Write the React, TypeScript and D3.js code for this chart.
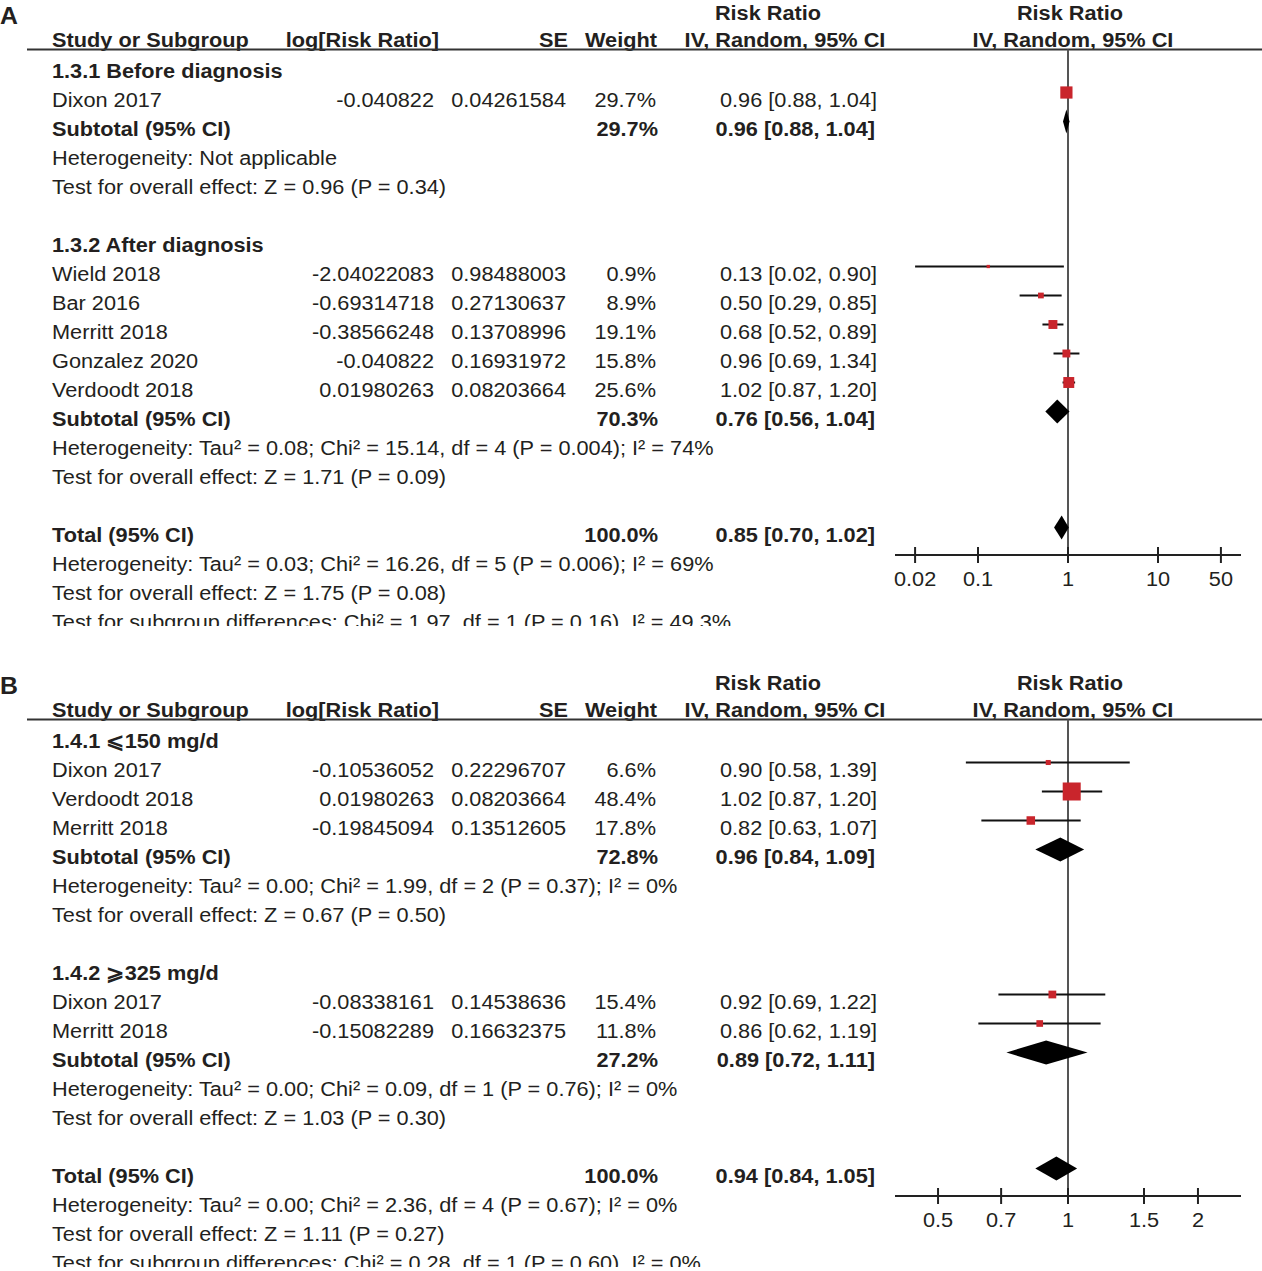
import React from 'react';
import * as d3 from 'd3';

interface Study {
  name: string;
  logRR: string;
  se: string;
  weight: number;
  rr: number;
  lo: number;
  hi: number;
}

interface Pooled {
  weight: number;
  rr: number;
  lo: number;
  hi: number;
}

interface Group {
  title: string;
  studies: Study[];
  subtotal: Pooled;
  het: string;
  effect: string;
}

// ---- Panel A data ----
const groupA1Studies: Study[] = [
  { name: 'Dixon 2017', logRR: '-0.040822', se: '0.04261584', weight: 29.7, rr: 0.96, lo: 0.88, hi: 1.04 },
];
const groupA2Studies: Study[] = [
  { name: 'Wield 2018', logRR: '-2.04022083', se: '0.98488003', weight: 0.9, rr: 0.13, lo: 0.02, hi: 0.9 },
  { name: 'Bar 2016', logRR: '-0.69314718', se: '0.27130637', weight: 8.9, rr: 0.5, lo: 0.29, hi: 0.85 },
  { name: 'Merritt 2018', logRR: '-0.38566248', se: '0.13708996', weight: 19.1, rr: 0.68, lo: 0.52, hi: 0.89 },
  { name: 'Gonzalez 2020', logRR: '-0.040822', se: '0.16931972', weight: 15.8, rr: 0.96, lo: 0.69, hi: 1.34 },
  { name: 'Verdoodt 2018', logRR: '0.01980263', se: '0.08203664', weight: 25.6, rr: 1.02, lo: 0.87, hi: 1.2 },
];
const subtotalsA: Pooled[] = [
  { weight: 29.7, rr: 0.96, lo: 0.88, hi: 1.04 },
  { weight: 70.3, rr: 0.76, lo: 0.56, hi: 1.04 },
];
const totalA: Pooled = { weight: 100, rr: 0.85, lo: 0.7, hi: 1.02 };
const notesA = [
  'Heterogeneity: Not applicable',
  'Test for overall effect: Z = 0.96 (P = 0.34)',
  'Heterogeneity: Tau² = 0.08; Chi² = 15.14, df = 4 (P = 0.004); I² = 74%',
  'Test for overall effect: Z = 1.71 (P = 0.09)',
  'Heterogeneity: Tau² = 0.03; Chi² = 16.26, df = 5 (P = 0.006); I² = 69%',
  'Test for overall effect: Z = 1.75 (P = 0.08)',
  'Test for subgroup differences: Chi² = 1.97, df = 1 (P = 0.16), I² = 49.3%',
];
const ticksA = [0.02, 0.1, 1, 10, 50];

// ---- Panel B data ----
const groupB1Studies: Study[] = [
  { name: 'Dixon 2017', logRR: '-0.10536052', se: '0.22296707', weight: 6.6, rr: 0.9, lo: 0.58, hi: 1.39 },
  { name: 'Verdoodt 2018', logRR: '0.01980263', se: '0.08203664', weight: 48.4, rr: 1.02, lo: 0.87, hi: 1.2 },
  { name: 'Merritt 2018', logRR: '-0.19845094', se: '0.13512605', weight: 17.8, rr: 0.82, lo: 0.63, hi: 1.07 },
];
const groupB2Studies: Study[] = [
  { name: 'Dixon 2017', logRR: '-0.08338161', se: '0.14538636', weight: 15.4, rr: 0.92, lo: 0.69, hi: 1.22 },
  { name: 'Merritt 2018', logRR: '-0.15082289', se: '0.16632375', weight: 11.8, rr: 0.86, lo: 0.62, hi: 1.19 },
];
const subtotalsB: Pooled[] = [
  { weight: 72.8, rr: 0.96, lo: 0.84, hi: 1.09 },
  { weight: 27.2, rr: 0.89, lo: 0.72, hi: 1.11 },
];
const totalB: Pooled = { weight: 100, rr: 0.94, lo: 0.84, hi: 1.05 };
const notesB = [
  'Heterogeneity: Tau² = 0.00; Chi² = 1.99, df = 2 (P = 0.37); I² = 0%',
  'Test for overall effect: Z = 0.67 (P = 0.50)',
  'Heterogeneity: Tau² = 0.00; Chi² = 0.09, df = 1 (P = 0.76); I² = 0%',
  'Test for overall effect: Z = 1.03 (P = 0.30)',
  'Heterogeneity: Tau² = 0.00; Chi² = 2.36, df = 4 (P = 0.67); I² = 0%',
  'Test for overall effect: Z = 1.11 (P = 0.27)',
  'Test for subgroup differences: Chi² = 0.28, df = 1 (P = 0.60), I² = 0%',
];
const ticksB = [0.5, 0.7, 1, 1.5, 2];

const FONT = '"Liberation Sans", Arial, Helvetica, sans-serif';
const TEXT = '#231f20';
const RED = '#c9252c';
const W = 1262;
const H = 1271;
const STRETCH = 1.035; // the source font runs a little wider than Liberation Sans

const fmtCI = (p: Pooled | Study) => `${p.rr.toFixed(2)} [${p.lo.toFixed(2)}, ${p.hi.toFixed(2)}]`;
const fmtW = (w: number) => `${w.toFixed(1)}%`;

// square side grows with weight
const boxSize = d3.scaleLinear().domain([0, 100]).range([3, 34]);

type Row =
  | { kind: 'group'; text: string }
  | { kind: 'study'; study: Study }
  | { kind: 'subtotal'; pooled: Pooled; label: string }
  | { kind: 'note'; text: string }
  | { kind: 'blank' };

function buildRows(groups: Group[], total: Pooled, totalNotes: string[]): Row[] {
  const rows: Row[] = [];
  groups.forEach(g => {
    rows.push({ kind: 'group', text: g.title });
    g.studies.forEach(s => rows.push({ kind: 'study', study: s }));
    rows.push({ kind: 'subtotal', pooled: g.subtotal, label: 'Subtotal (95% CI)' });
    rows.push({ kind: 'note', text: g.het });
    rows.push({ kind: 'note', text: g.effect });
    rows.push({ kind: 'blank' });
  });
  rows.push({ kind: 'subtotal', pooled: total, label: 'Total (95% CI)' });
  totalNotes.forEach(t => rows.push({ kind: 'note', text: t }));
  return rows;
}

const txt = (
  x: number,
  y: number,
  content: string,
  opts: { bold?: boolean; anchor?: string; size?: number } = {}
) => (
  <text
    transform={`translate(${x},${y}) scale(${STRETCH},1)`}
    fontFamily={FONT}
    fontSize={opts.size ?? 21}
    fill={TEXT}
    fontWeight={opts.bold ? 'bold' : 'normal'}
    textAnchor={opts.anchor ?? 'start'}
  >
    {content}
  </text>
);

interface PanelProps {
  label: string;
  top: number;
  clipBottom: number;
  rows: Row[];
  ticks: number[];
  half: number; // symmetric log extent of the axis
  id: string;
}

const Panel: React.FC<PanelProps> = ({ label, top, clipBottom, rows, ticks, half, id }) => {
  const x = d3.scaleLog().domain([1 / half, half]).range([895, 1241]);
  const rowY = d3.scaleLinear().domain([0, 1]).range([top + 70, top + 99]);
  const lastPooled = rows.map(r => r.kind).lastIndexOf('subtotal');
  const axisY = rowY(lastPooled) + 21;
  const lineY = top + 49.5;
  const base = 7.5;
  const markOff = -6.5;
  const x1 = x(1);

  return (
    <g clipPath={`url(#${id})`}>
      <defs>
        <clipPath id={id}>
          <rect x={0} y={top} width={W} height={clipBottom - top} />
        </clipPath>
      </defs>
      {txt(0, top + 24, label, { bold: true, size: 24 })}

      {/* header */}
      {txt(768, top + 20, 'Risk Ratio', { bold: true, anchor: 'middle' })}
      {txt(1070, top + 20, 'Risk Ratio', { bold: true, anchor: 'middle' })}
      {txt(52, top + 47, 'Study or Subgroup', { bold: true })}
      {txt(439, top + 47, 'log[Risk Ratio]', { bold: true, anchor: 'end' })}
      {txt(568, top + 47, 'SE', { bold: true, anchor: 'end' })}
      {txt(657, top + 47, 'Weight', { bold: true, anchor: 'end' })}
      {txt(785, top + 47, 'IV, Random, 95% CI', { bold: true, anchor: 'middle' })}
      {txt(1073, top + 47, 'IV, Random, 95% CI', { bold: true, anchor: 'middle' })}
      <line x1={27} x2={W} y1={lineY} y2={lineY} stroke="#333" strokeWidth={2} />

      {/* null line */}
      <line x1={x1} x2={x1} y1={lineY} y2={axisY} stroke="#555" strokeWidth={2} />

      {rows.map((r, i) => {
        const cy = rowY(i);
        const ty = cy + base;
        const my = cy + markOff;
        if (r.kind === 'group') return <g key={i}>{txt(52, ty, r.text, { bold: true })}</g>;
        if (r.kind === 'note') return <g key={i}>{txt(52, ty, r.text)}</g>;
        if (r.kind === 'blank') return null;
        if (r.kind === 'study') {
          const s = r.study;
          const sz = boxSize(s.weight);
          return (
            <g key={i}>
              {txt(52, ty, s.name)}
              {txt(434, ty, s.logRR, { anchor: 'end' })}
              {txt(566, ty, s.se, { anchor: 'end' })}
              {txt(656, ty, fmtW(s.weight), { anchor: 'end' })}
              {txt(877, ty, fmtCI(s), { anchor: 'end' })}
              <line x1={x(s.lo)} x2={x(s.hi)} y1={my} y2={my} stroke="#111" strokeWidth={2} />
              <rect x={x(s.rr) - sz / 2} y={my - sz / 2} width={sz} height={sz} fill={RED} />
            </g>
          );
        }
        const p = r.pooled;
        const hh = 12;
        const d = `M${x(p.lo)},${my} L${x(p.rr)},${my - hh} L${x(p.hi)},${my} L${x(p.rr)},${my + hh} Z`;
        return (
          <g key={i}>
            {txt(52, ty, r.label, { bold: true })}
            {txt(658, ty, fmtW(p.weight), { bold: true, anchor: 'end' })}
            {txt(875, ty, fmtCI(p), { bold: true, anchor: 'end' })}
            <path d={d} fill="#000" />
          </g>
        );
      })}

      {/* axis */}
      <line x1={895} x2={1241} y1={axisY} y2={axisY} stroke="#222" strokeWidth={2} />
      {ticks.map(t => (
        <g key={t}>
          <line x1={x(t)} x2={x(t)} y1={axisY - 8} y2={axisY + 8} stroke="#222" strokeWidth={2} />
          {txt(x(t), axisY + 31, String(t), { anchor: 'middle' })}
        </g>
      ))}
    </g>
  );
};

const groupsA: Group[] = [
  { title: '1.3.1 Before diagnosis', studies: groupA1Studies, subtotal: subtotalsA[0], het: notesA[0], effect: notesA[1] },
  { title: '1.3.2 After diagnosis', studies: groupA2Studies, subtotal: subtotalsA[1], het: notesA[2], effect: notesA[3] },
];
const groupsB: Group[] = [
  { title: '1.4.1 ⩽150 mg/d', studies: groupB1Studies, subtotal: subtotalsB[0], het: notesB[0], effect: notesB[1] },
  { title: '1.4.2 ⩾325 mg/d', studies: groupB2Studies, subtotal: subtotalsB[1], het: notesB[2], effect: notesB[3] },
];

export default function App() {
  const rowsA = buildRows(groupsA, totalA, notesA.slice(4));
  const rowsB = buildRows(groupsB, totalB, notesB.slice(4));
  return (
    <svg
      width={W}
      height={H}
      viewBox={`0 0 ${W} ${H}`}
      style={{ position: 'absolute', left: 0, top: 0, background: '#fff' }}
    >
      <rect width={W} height={H} fill="#fff" />
      <Panel id="clipA" label="A" top={0} clipBottom={626} rows={rowsA} ticks={ticksA} half={83.6} />
      <Panel id="clipB" label="B" top={670} clipBottom={1267} rows={rowsB} ticks={ticksB} half={2.516} />
    </svg>
  );
}
